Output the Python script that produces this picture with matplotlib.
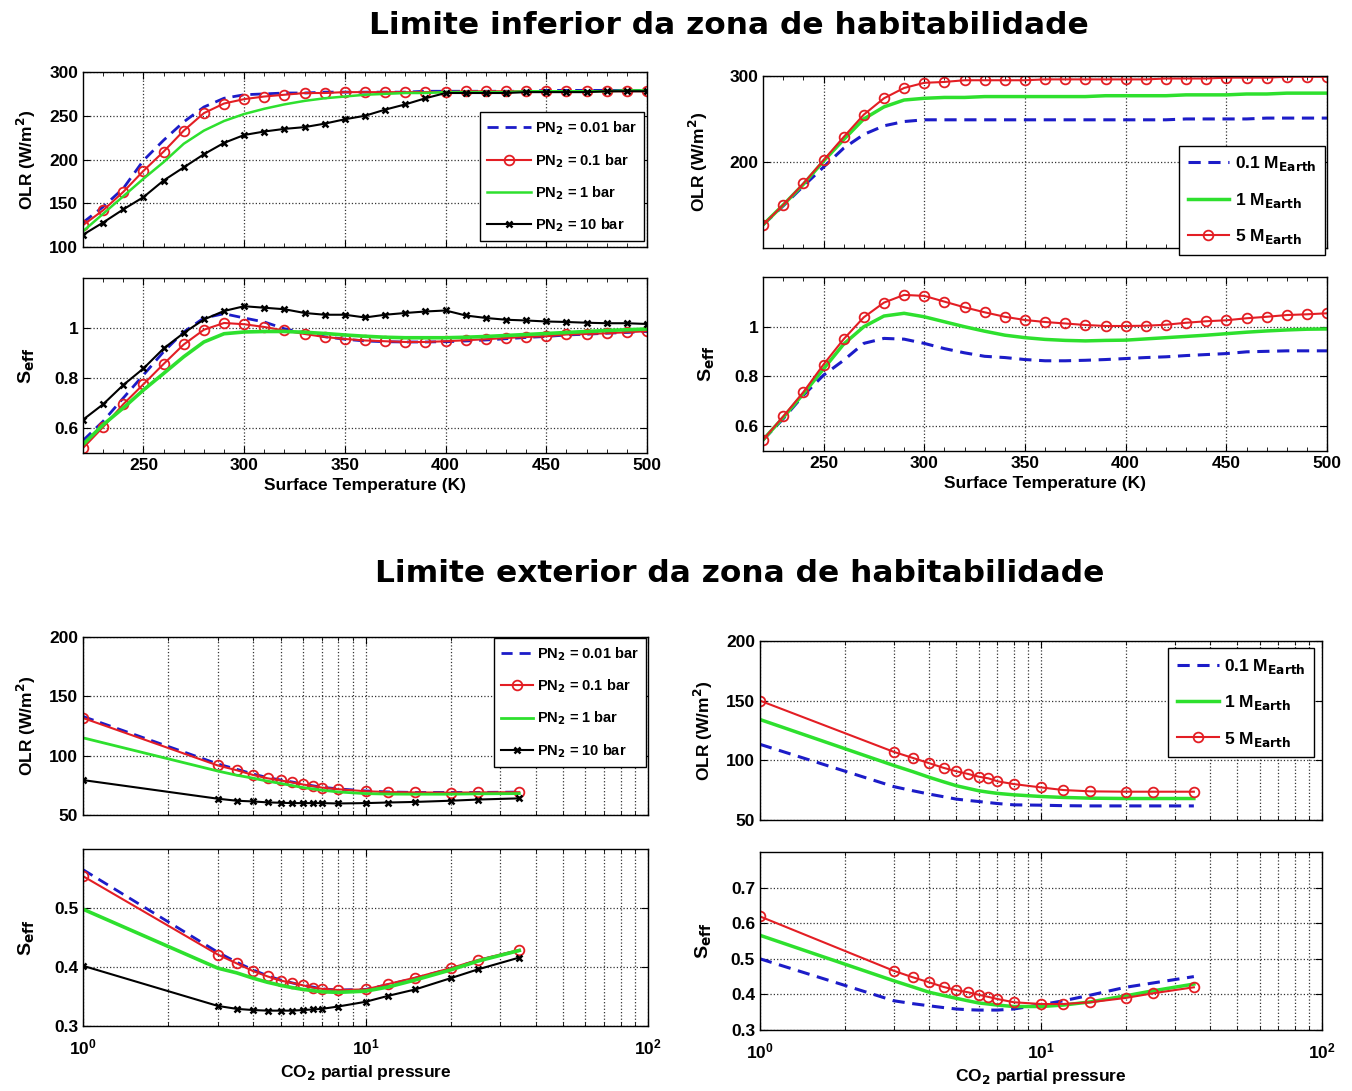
import matplotlib
matplotlib.use("Agg")
import matplotlib.pyplot as plt
import numpy as np
from matplotlib.ticker import FixedLocator, NullFormatter, MultipleLocator

# surface temperature grid (K)
temp = [220, 230, 240, 250, 260, 270, 280, 290, 300, 310, 320, 330, 340, 350, 360,
        370, 380, 390, 400, 410, 420, 430, 440, 450, 460, 470, 480, 490, 500]

# inner edge, N2 pressure runs
olr_in_pn001 = [128, 146, 167, 199, 222, 243, 260, 270, 274, 275, 276, 276, 277, 277, 277,
                277, 277, 278, 278, 278, 278, 278, 278, 279, 279, 279, 279, 279, 279]
olr_in_pn01 = [125, 142, 163, 187, 209, 233, 253, 264, 269, 272, 274, 276, 276, 277, 277,
               277, 277, 277, 277, 278, 278, 278, 278, 278, 278, 278, 278, 278, 278]
olr_in_pn1 = [118, 138, 158, 178, 197, 218, 233, 244, 252, 258, 263, 267, 270, 272, 274,
              275, 276, 276, 277, 277, 277, 277, 278, 278, 278, 278, 278, 279, 279]
olr_in_pn10 = [114, 128, 143, 157, 176, 191, 206, 219, 228, 232, 235, 237, 241, 246, 250,
               257, 263, 270, 276, 276, 276, 276, 277, 277, 277, 277, 278, 278, 278]

seff_in_pn001 = [0.55, 0.627, 0.72, 0.812, 0.905, 0.984, 1.04, 1.057, 1.04, 1.024, 0.997,
                 0.98, 0.965, 0.955, 0.948, 0.945, 0.944, 0.944, 0.945, 0.948, 0.952, 0.957,
                 0.962, 0.966, 0.972, 0.975, 0.979, 0.982, 0.986]
seff_in_pn01 = [0.52, 0.604, 0.695, 0.775, 0.856, 0.934, 0.993, 1.02, 1.015, 1.004, 0.99,
                0.976, 0.964, 0.956, 0.95, 0.947, 0.944, 0.944, 0.947, 0.951, 0.955, 0.96,
                0.964, 0.967, 0.974, 0.976, 0.979, 0.983, 0.987]
seff_in_pn1 = [0.534, 0.613, 0.68, 0.752, 0.818, 0.885, 0.944, 0.977, 0.984, 0.986, 0.986,
               0.983, 0.978, 0.972, 0.967, 0.963, 0.961, 0.961, 0.961, 0.963, 0.966, 0.97,
               0.974, 0.978, 0.982, 0.986, 0.99, 0.993, 0.996]
seff_in_pn10 = [0.633, 0.695, 0.772, 0.838, 0.918, 0.98, 1.034, 1.068, 1.087, 1.081, 1.075,
                1.06, 1.053, 1.053, 1.042, 1.053, 1.06, 1.066, 1.07, 1.05, 1.04, 1.033,
                1.03, 1.026, 1.024, 1.021, 1.019, 1.019, 1.016]

# inner edge, planet mass runs
olr_in_m01 = [127, 149, 172, 194, 216, 232, 242, 247, 249, 249, 249, 249, 249, 249, 249,
              249, 249, 249, 249, 249, 249, 250, 250, 250, 250, 251, 251, 251, 251]
olr_in_m1 = [127, 150, 174, 201, 226, 250, 264, 272, 274, 275, 275, 276, 276, 276, 276,
             276, 276, 277, 277, 277, 277, 278, 278, 278, 279, 279, 280, 280, 280]
olr_in_m5 = [127, 150, 175, 202, 229, 255, 274, 286, 292, 293, 295, 295, 295, 295, 296,
             296, 296, 296, 296, 296, 297, 297, 297, 298, 298, 298, 299, 299, 299]

seff_in_m01 = [0.545, 0.63, 0.724, 0.805, 0.865, 0.933, 0.953, 0.95, 0.933, 0.912, 0.895,
               0.881, 0.876, 0.868, 0.863, 0.863, 0.865, 0.868, 0.872, 0.876, 0.879, 0.884,
               0.888, 0.892, 0.899, 0.901, 0.903, 0.903, 0.903]
seff_in_m1 = [0.545, 0.635, 0.73, 0.83, 0.93, 1.0, 1.043, 1.054, 1.04, 1.02, 1.0, 0.982,
              0.966, 0.956, 0.949, 0.945, 0.943, 0.945, 0.946, 0.951, 0.956, 0.961, 0.966,
              0.972, 0.978, 0.983, 0.987, 0.99, 0.991]
seff_in_m5 = [0.545, 0.639, 0.737, 0.848, 0.95, 1.038, 1.097, 1.128, 1.124, 1.101, 1.078,
              1.058, 1.04, 1.027, 1.019, 1.013, 1.007, 1.003, 1.003, 1.004, 1.008, 1.016,
              1.022, 1.026, 1.034, 1.04, 1.047, 1.05, 1.054]

# CO2 partial pressure grid (bar)
pco2 = [1, 3, 3.5, 4, 4.5, 5, 5.5, 6, 6.5, 7, 8, 10, 12, 15, 20, 25, 35]

# outer edge, N2 pressure runs
olr_out_pn001 = [133, 93, 88.5, 84.5, 81.5, 79.5, 77.8, 76, 74.6, 73.4, 72, 70.3, 69.4, 69, 69, 69, 69.3]
olr_out_pn01 = [131.7, 91.7, 87.7, 83.7, 80.9, 79.1, 77.4, 75.7, 74.3, 73.1, 71.7, 70, 69.3, 69, 68.8, 69, 69.2]
olr_out_pn1 = [115, 87, 83.5, 81, 78.5, 76.6, 74.8, 73.1, 72, 70.9, 69.4, 68, 67.6, 67.5, 67.5, 67.8, 68]
olr_out_pn10 = [79.4, 63.7, 62, 61.4, 60.6, 60.3, 60, 60, 60, 60, 59.7, 60, 60.5, 61, 62, 63, 64]

seff_out_pn001 = [0.565, 0.425, 0.408, 0.395, 0.385, 0.378, 0.373, 0.369, 0.366, 0.363, 0.361,
                  0.362, 0.37, 0.381, 0.397, 0.411, 0.428]
seff_out_pn01 = [0.554, 0.421, 0.406, 0.393, 0.384, 0.377, 0.373, 0.369, 0.365, 0.363, 0.361,
                 0.362, 0.371, 0.382, 0.398, 0.412, 0.429]
seff_out_pn1 = [0.498, 0.398, 0.39, 0.381, 0.374, 0.369, 0.365, 0.362, 0.36, 0.358, 0.357,
                0.359, 0.366, 0.378, 0.395, 0.41, 0.428]
seff_out_pn10 = [0.402, 0.334, 0.329, 0.327, 0.326, 0.326, 0.326, 0.327, 0.328, 0.329, 0.333,
                 0.341, 0.351, 0.362, 0.381, 0.396, 0.416]

# outer edge, planet mass runs
olr_out_m01 = [113.4, 77.9, 74.5, 71.7, 69.5, 67.5, 66.4, 65.5, 64.6, 63.8, 62.7, 62.4, 62, 61.8, 61.8, 61.8, 61.8]
olr_out_m1 = [134.2, 95.6, 90.5, 85.8, 82, 78.7, 76.5, 74.5, 73.3, 72.3, 71.1, 69.7, 68.9, 68.3, 68, 68, 68]
olr_out_m5 = [150, 107, 102, 97.6, 93.7, 90.8, 88.6, 86.3, 84.9, 82.4, 80.1, 77.3, 75.1, 74, 73.7, 73.7, 73.7]

seff_out_m01 = [0.5, 0.382, 0.374, 0.368, 0.363, 0.359, 0.357, 0.356, 0.356, 0.356, 0.359,
                0.371, 0.382, 0.398, 0.42, 0.432, 0.45]
seff_out_m1 = [0.566, 0.438, 0.421, 0.406, 0.397, 0.389, 0.382, 0.376, 0.373, 0.37, 0.366,
               0.366, 0.37, 0.379, 0.396, 0.41, 0.429]
seff_out_m5 = [0.619, 0.466, 0.448, 0.434, 0.421, 0.412, 0.406, 0.399, 0.393, 0.387, 0.378,
               0.373, 0.373, 0.378, 0.39, 0.403, 0.42]

pn_labels = ["PN$_2$ = 0.01 bar", "PN$_2$ = 0.1 bar", "PN$_2$ = 1 bar", "PN$_2$ = 10 bar"]
mass_labels = ["0.1 M$_{Earth}$", "1 M$_{Earth}$", "5 M$_{Earth}$"]
titles = ["Limite inferior da zona de habitabilidade", "Limite exterior da zona de habitabilidade"]

RED = "#e31e24"
GREEN = "#2ee02e"
BLUE = "#1c1cc8"
FONT = "Liberation Sans"

plt.rcParams["font.family"] = FONT
plt.rcParams["font.weight"] = "bold"
plt.rcParams["mathtext.default"] = "bf"

fig = plt.figure(figsize=(13.52, 10.91), dpi=100)


def style(ax, log=False):
    ax.tick_params(which="both", direction="in", top=True, right=True, labelsize=12.5)
    ax.tick_params(which="major", length=5)
    ax.tick_params(which="minor", length=3)
    for s in ax.spines.values():
        s.set_linewidth(1.0)
    ax.grid(True, which="major", linestyle=":", color="#333333", linewidth=0.9)
    if log:
        ax.grid(True, which="minor", axis="x", linestyle=":", color="#333333", linewidth=0.9)
        ax.tick_params(axis="x", which="major", pad=8)
    for lab in ax.get_xticklabels() + ax.get_yticklabels():
        lab.set_fontweight("bold")


def temp_axis(ax, labels):
    ax.set_xlim(220, 500)
    ax.xaxis.set_major_locator(FixedLocator([250, 300, 350, 400, 450, 500]))
    ax.xaxis.set_minor_locator(MultipleLocator(10))
    if not labels:
        ax.xaxis.set_major_formatter(NullFormatter())
    else:
        ax.set_xlabel("Surface Temperature (K)", fontsize=12.5, fontweight="bold")


def co2_axis(ax, labels):
    ax.set_xscale("log")
    ax.set_xlim(1, 100)
    if not labels:
        ax.xaxis.set_major_formatter(NullFormatter())
    else:
        ax.set_xlabel("CO$_2$ partial pressure", fontsize=12.5, fontweight="bold")
    ax.xaxis.set_minor_formatter(NullFormatter())


def pn_lines(ax, x, b, r, g, k, green_lw):
    ax.plot(x, b, "--", color=BLUE, lw=2, dashes=(4, 2.5))
    ax.plot(x, r, "-", color=RED, lw=1.5, marker="o", ms=7, mfc="none", mew=1.3)
    ax.plot(x, g, "-", color=GREEN, lw=green_lw)
    ax.plot(x, k, "-", color="k", lw=1.5, marker="x", ms=4.5, mew=1.8)


def mass_lines(ax, x, b, g, r):
    ax.plot(x, b, "--", color=BLUE, lw=2.2, dashes=(4, 2.5))
    ax.plot(x, g, "-", color=GREEN, lw=2.5)
    ax.plot(x, r, "-", color=RED, lw=1.5, marker="o", ms=7, mfc="none", mew=1.3)


def legend(ax, labels, anchor, size, hlen):
    leg = ax.legend(labels, loc="upper right", bbox_to_anchor=anchor, borderaxespad=0,
                    fontsize=size, handlelength=hlen, labelspacing=1.0, fancybox=False,
                    edgecolor="k", framealpha=1, handletextpad=0.3, borderpad=0.5)
    leg.get_frame().set_linewidth(1.0)
    for t in leg.get_texts():
        t.set_fontweight("bold")


# inner edge, N2 runs
ax1 = fig.add_axes([0.0614, 0.7736, 0.4172, 0.1604])
pn_lines(ax1, temp, olr_in_pn001, olr_in_pn01, olr_in_pn1, olr_in_pn10, 1.8)
temp_axis(ax1, False)
ax1.set_ylim(100, 300)
ax1.set_yticks([100, 150, 200, 250, 300])
ax1.set_ylabel("OLR (W/m$^2$)", fontsize=12.5, fontweight="bold", labelpad=8)
style(ax1)
legend(ax1, pn_labels, (0.995, 0.77), 10.5, 3.0)

ax2 = fig.add_axes([0.0614, 0.5848, 0.4172, 0.1604])
pn_lines(ax2, temp, seff_in_pn001, seff_in_pn01, seff_in_pn1, seff_in_pn10, 2.6)
temp_axis(ax2, True)
ax2.set_ylim(0.5, 1.2)
ax2.set_yticks([0.6, 0.8, 1.0])
ax2.set_yticklabels(["0.6", "0.8", "1"])
ax2.set_ylabel("S$_{eff}$", fontsize=14, fontweight="bold", labelpad=12)
style(ax2)

# inner edge, mass runs
ax3 = fig.add_axes([0.5644, 0.7727, 0.4172, 0.1577])
mass_lines(ax3, temp, olr_in_m01, olr_in_m1, olr_in_m5)
temp_axis(ax3, False)
ax3.set_ylim(100, 300)
ax3.set_yticks([200, 300])
ax3.set_ylabel("OLR (W/m$^2$)", fontsize=12.5, fontweight="bold", labelpad=14)
style(ax3)
legend(ax3, mass_labels, (0.996, 0.595), 12.5, 2.4)

ax4 = fig.add_axes([0.5644, 0.5866, 0.4172, 0.1595])
mass_lines(ax4, temp, seff_in_m01, seff_in_m1, seff_in_m5)
temp_axis(ax4, True)
ax4.set_ylim(0.5, 1.2)
ax4.set_yticks([0.6, 0.8, 1.0])
ax4.set_yticklabels(["0.6", "0.8", "1"])
ax4.set_ylabel("S$_{eff}$", fontsize=14, fontweight="bold", labelpad=12)
style(ax4)

# outer edge, N2 runs
ax5 = fig.add_axes([0.0614, 0.2530, 0.4180, 0.1632])
pn_lines(ax5, pco2, olr_out_pn001, olr_out_pn01, olr_out_pn1, olr_out_pn10, 2.0)
co2_axis(ax5, False)
ax5.set_ylim(50, 200)
ax5.set_yticks([50, 100, 150, 200])
ax5.set_ylabel("OLR (W/m$^2$)", fontsize=12.5, fontweight="bold", labelpad=8)
style(ax5, log=True)
legend(ax5, pn_labels, (0.997, 0.995), 10.5, 2.2)

ax6 = fig.add_axes([0.0614, 0.0596, 0.4180, 0.1622])
pn_lines(ax6, pco2, seff_out_pn001, seff_out_pn01, seff_out_pn1, seff_out_pn10, 2.6)
co2_axis(ax6, True)
ax6.set_ylim(0.3, 0.6)
ax6.set_yticks([0.3, 0.4, 0.5])
ax6.set_ylabel("S$_{eff}$", fontsize=14, fontweight="bold", labelpad=12)
style(ax6, log=True)

# outer edge, mass runs
ax7 = fig.add_axes([0.5621, 0.2484, 0.4157, 0.1641])
mass_lines(ax7, pco2, olr_out_m01, olr_out_m1, olr_out_m5)
co2_axis(ax7, False)
ax7.set_ylim(50, 200)
ax7.set_yticks([50, 100, 150, 200])
ax7.set_ylabel("OLR (W/m$^2$)", fontsize=12.5, fontweight="bold", labelpad=8)
style(ax7, log=True)
legend(ax7, mass_labels, (0.986, 0.96), 12.5, 2.4)

ax8 = fig.add_axes([0.5621, 0.0559, 0.4157, 0.1632])
mass_lines(ax8, pco2, seff_out_m01, seff_out_m1, seff_out_m5)
co2_axis(ax8, True)
ax8.set_ylim(0.3, 0.8)
ax8.set_yticks([0.3, 0.4, 0.5, 0.6, 0.7])
ax8.set_ylabel("S$_{eff}$", fontsize=14, fontweight="bold", labelpad=12)
style(ax8, log=True)

fig.text(0.539, 1 - 25 / 1091, titles[0], ha="center", va="center", fontsize=22.5,
         fontweight="bold", family="DejaVu Sans")
fig.text(0.547, 1 - 573 / 1091, titles[1], ha="center", va="center", fontsize=22.5,
         fontweight="bold", family="DejaVu Sans")

fig.savefig("out.png", dpi=100)
